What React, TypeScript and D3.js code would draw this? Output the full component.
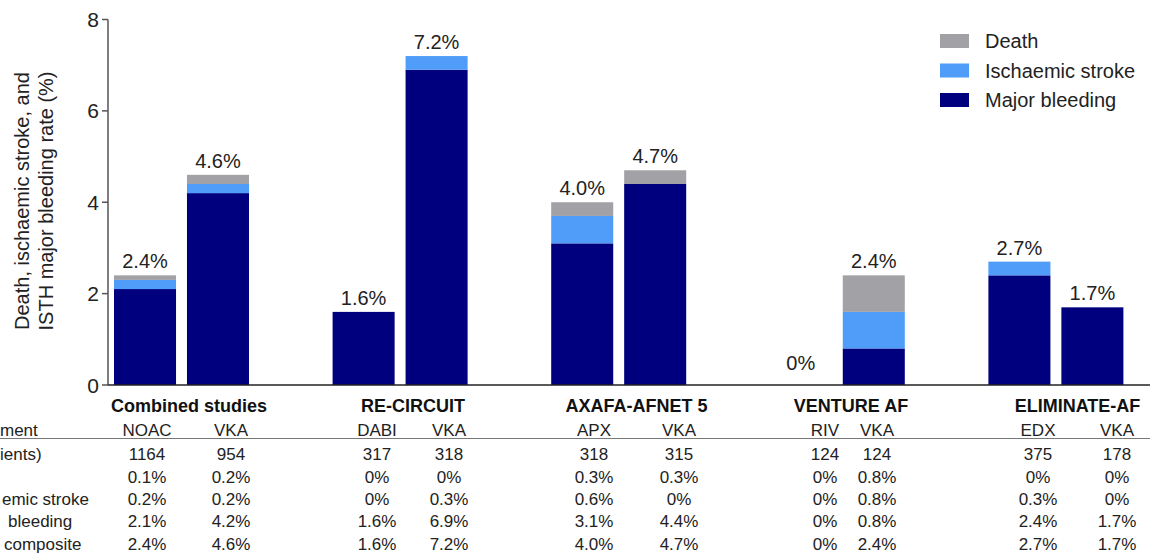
import React from "react";
import * as d3 from "d3";

// Study groups and arms
const GROUPS = ["Combined studies", "RE-CIRCUIT", "AXAFA-AFNET 5", "VENTURE AF", "ELIMINATE-AF"];
const ARMS = [["NOAC", "VKA"], ["DABI", "VKA"], ["APX", "VKA"], ["RIV", "VKA"], ["EDX", "VKA"]];

// Table / bar values (%), per group, per arm
const PATIENTS = [[1164, 954], [317, 318], [318, 315], [124, 124], [375, 178]];
const DEATH = [[0.1, 0.2], [0, 0], [0.3, 0.3], [0, 0.8], [0, 0]];
const STROKE = [[0.2, 0.2], [0, 0.3], [0.6, 0], [0, 0.8], [0.3, 0]];
const BLEEDING = [[2.1, 4.2], [1.6, 6.9], [3.1, 4.4], [0, 0.8], [2.4, 1.7]];
const COMPOSITE = [[2.4, 4.6], [1.6, 7.2], [4.0, 4.7], [0, 2.4], [2.7, 1.7]];

// row labels run off the left edge in the source; only the visible tails are kept
const ROW_LABELS = ["ment", "ients)", "", "emic stroke", "bleeding", "composite"];
const Y_TICKS = [0, 2, 4, 6, 8];

const KEYS = ["bleeding", "stroke", "death"] as const;
const LEGEND = [
  { key: "death", label: "Death" },
  { key: "stroke", label: "Ischaemic stroke" },
  { key: "bleeding", label: "Major bleeding" },
];
const COLORS: Record<string, string> = {
  death: "#a2a2a6",
  stroke: "#4f9df8",
  bleeding: "#00007f",
};

const W = 1150;
const H = 553;
const FONT = "'Liberation Sans', Arial, Helvetica, sans-serif";

// table column centres (the table is laid out apart from the bars)
const TABLE_COL_X = [147, 231, 377, 449, 594, 679, 825, 877, 1038, 1117];
const ROW_LABEL_X = [0, 0, 0, 2, 8, 4];

const fmt = (v: number) => (v === 0 ? "0%" : `${v.toFixed(1)}%`);

export default function App() {
  const x0 = d3.scaleBand<string>().domain(GROUPS).range([114, 1123.4]).paddingInner(0.3824).paddingOuter(0);
  const x1 = d3.scaleBand<number>().domain([0, 1]).range([0, x0.bandwidth()]).paddingInner(0.15);
  const y = d3.scaleLinear().domain([0, 8]).range([385, 19.5]);

  const rows = GROUPS.flatMap((g, gi) =>
    ARMS[gi].map((arm, ai) => ({
      group: g,
      arm: ai,
      death: DEATH[gi][ai],
      stroke: STROKE[gi][ai],
      bleeding: BLEEDING[gi][ai],
      total: COMPOSITE[gi][ai],
    }))
  );
  const series = d3.stack<any>().keys(KEYS as any)(rows);

  const axisX = 108;
  const rowY = [436, 460, 482.5, 505, 527, 549.5];
  const titleY = 412;

  const tableRows = [
    ARMS.flat(),
    PATIENTS.flat().map(String),
    DEATH.flat().map(fmt),
    STROKE.flat().map(fmt),
    BLEEDING.flat().map(fmt),
    COMPOSITE.flat().map(fmt),
  ];

  return (
    <svg width={W} height={H} style={{ position: "absolute", left: 0, top: 0, background: "#fff" }} fontFamily={FONT}>
      {/* stacked bars */}
      {series.map((s) => (
        <g key={s.key} fill={COLORS[s.key]}>
          {s.map((d, i) => {
            const r = rows[i];
            const h = y(d[0]) - y(d[1]);
            if (h <= 0) return null;
            return (
              <rect
                key={i}
                x={(x0(r.group) ?? 0) + (x1(r.arm) ?? 0)}
                y={y(d[1])}
                width={x1.bandwidth()}
                height={h}
              />
            );
          })}
        </g>
      ))}

      {/* totals above bars */}
      {rows.map((r, i) => (
        <text
          key={i}
          x={(x0(r.group) ?? 0) + (x1(r.arm) ?? 0) + x1.bandwidth() / 2}
          y={Math.min(y(r.total) - 7, y(0) - 15)}
          textAnchor="middle"
          fontSize={20}
          fill="#222"
        >
          {fmt(r.total)}
        </text>
      ))}

      {/* y axis */}
      <line x1={axisX} x2={axisX} y1={y(8)} y2={y(0)} stroke="#555" strokeWidth={1.5} />
      {Y_TICKS.map((t) => (
        <g key={t}>
          <line x1={axisX - 6} x2={axisX} y1={y(t)} y2={y(t)} stroke="#555" strokeWidth={1.5} />
          <text x={axisX - 9} y={y(t)} dy="0.36em" textAnchor="end" fontSize={21} fill="#222">
            {t}
          </text>
        </g>
      ))}
      {/* x axis baseline */}
      <line x1={axisX} x2={W} y1={y(0)} y2={y(0)} stroke="#222" strokeWidth={1.5} />

      {/* y axis title */}
      <g transform={`translate(0,${201}) rotate(-90)`} fontSize={20} fill="#222" textAnchor="middle">
        <text x={0} y={29}>Death, ischaemic stroke, and</text>
        <text x={0} y={53}>ISTH major bleeding rate (%)</text>
      </g>

      {/* legend */}
      {LEGEND.map((l, i) => (
        <g key={l.key} transform={`translate(940,${41 + i * 29.5})`}>
          <rect x={0} y={-7} width={29} height={14} fill={COLORS[l.key]} />
          <text x={45} y={0} dy="0.36em" fontSize={20} fill="#222">
            {l.label}
          </text>
        </g>
      ))}

      {/* table */}
      {GROUPS.map((g, gi) => (
        <text
          key={g}
          x={(TABLE_COL_X[gi * 2] + TABLE_COL_X[gi * 2 + 1]) / 2}
          y={titleY}
          textAnchor="middle"
          fontSize={18}
          fontWeight="bold"
          fill="#111"
        >
          {g}
        </text>
      ))}
      <line x1={0} x2={W} y1={438.5} y2={438.5} stroke="#777" strokeWidth={1} />
      {ROW_LABELS.map((lab, ri) =>
        lab ? (
          <text key={ri} x={ROW_LABEL_X[ri]} y={rowY[ri]} fontSize={17} fill="#222">
            {lab}
          </text>
        ) : null
      )}
      {tableRows.map((vals, ri) =>
        vals.map((v, ci) => (
          <text key={`${ri}-${ci}`} x={TABLE_COL_X[ci]} y={rowY[ri]} textAnchor="middle" fontSize={17} fill="#222">
            {v}
          </text>
        ))
      )}
    </svg>
  );
}
